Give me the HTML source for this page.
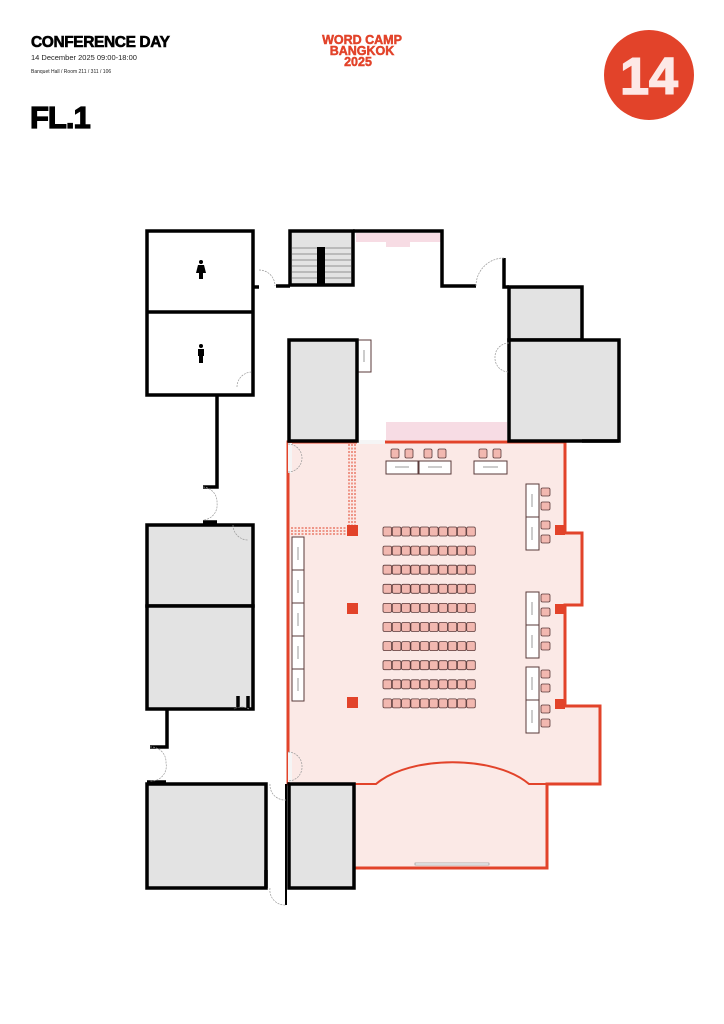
<!DOCTYPE html>
<html><head><meta charset="utf-8"><style>
html,body{margin:0;padding:0;background:#fff;}
svg{display:block}
text{font-family:"Liberation Sans",sans-serif}
</style></head><body>
<svg width="724" height="1024" viewBox="0 0 724 1024" xmlns="http://www.w3.org/2000/svg">
<rect width="724" height="1024" fill="#fff"/>
<!-- header -->
<text x="31" y="47" font-size="15.5" font-weight="bold" fill="#000" stroke="#000" stroke-width="0.6" letter-spacing="-0.4">CONFERENCE DAY</text>
<text x="31" y="60" font-size="7.5" fill="#222">14 December 2025 09:00-18:00</text>
<text x="31" y="73" font-size="5" fill="#222">Banquet Hall / Room 211 / 311 / 106</text>
<text x="30" y="128" font-size="31" font-weight="bold" fill="#000" stroke="#000" stroke-width="1.2" letter-spacing="-1">FL.1</text>
<g fill="#e2432a" stroke="#e2432a" stroke-width="0.5" font-weight="bold" text-anchor="middle">
<text x="362" y="44" font-size="12.5">WORD CAMP</text>
<text x="362" y="55" font-size="12.5">BANGKOK</text>
<text x="358" y="66" font-size="12.5">2025</text>
</g>
<circle cx="649" cy="75" r="45" fill="#e2432a"/>
<text x="649" y="94" font-size="52" font-weight="bold" fill="#fde8e6" stroke="#fde8e6" stroke-width="1.5" text-anchor="middle">14</text>

<!-- hall -->
<path d="M288,442 H565 V533 H582 V605 H565 V706 H600 V784 H547 V868 H354 V784 H288 Z" fill="#fbe9e6" stroke="#e2432a" stroke-width="3"/>
<path d="M354,784 H376 C410,755 495,755 529,784 H547" fill="none" stroke="#e2432a" stroke-width="2"/>
<rect x="415" y="863" width="74" height="2" fill="#fff" stroke="#888" stroke-width="0.6"/>
<rect x="288" y="443" width="4" height="30" fill="#f5f5f5"/>
<rect x="288" y="752" width="4" height="30" fill="#f5f5f5"/>
<rect x="357" y="440" width="28" height="4" fill="#f5f5f5"/>
<!-- pillars -->
<g fill="#e2432a">
<rect x="347" y="525" width="11" height="11"/><rect x="347" y="603" width="11" height="11"/><rect x="347" y="697" width="11" height="11"/>
<rect x="555" y="525" width="10" height="10"/><rect x="555" y="604" width="10" height="10"/><rect x="555" y="699" width="10" height="10"/>
</g>
<g stroke="#e2432a" stroke-width="1" stroke-dasharray="2,1.5">
<line x1="349" y1="444" x2="349" y2="525"/><line x1="352" y1="444" x2="352" y2="525"/><line x1="355" y1="444" x2="355" y2="525"/>
<line x1="291" y1="528" x2="347" y2="528"/><line x1="291" y1="531" x2="347" y2="531"/><line x1="291" y1="534" x2="347" y2="534"/>
</g>
<g id="seats"></g>
<g id="tables" fill="#fff" stroke="#5a3a3a" stroke-width="1">
<rect x="386" y="461" width="32" height="13"/><rect x="419" y="461" width="32" height="13"/><rect x="474" y="461" width="33" height="13"/>
<rect x="292" y="537" width="12" height="33"/><rect x="292" y="570" width="12" height="33"/><rect x="292" y="603" width="12" height="33"/><rect x="292" y="636" width="12" height="33"/><rect x="292" y="669" width="12" height="32"/>
<rect x="526" y="484" width="13" height="33"/><rect x="526" y="517" width="13" height="33"/>
<rect x="526" y="592" width="13" height="33"/><rect x="526" y="625" width="13" height="33"/>
<rect x="526" y="667" width="13" height="33"/><rect x="526" y="700" width="13" height="33"/>
<rect x="358" y="340" width="13" height="32"/>
</g>
<g stroke="#555" stroke-width="0.6">
<line x1="395" y1="467" x2="409" y2="467"/><line x1="428" y1="467" x2="442" y2="467"/><line x1="483" y1="467" x2="498" y2="467"/>
<line x1="298" y1="547" x2="298" y2="560"/><line x1="298" y1="580" x2="298" y2="593"/><line x1="298" y1="613" x2="298" y2="626"/><line x1="298" y1="646" x2="298" y2="659"/><line x1="298" y1="678" x2="298" y2="691"/>
<line x1="532" y1="494" x2="532" y2="507"/><line x1="532" y1="527" x2="532" y2="540"/><line x1="532" y1="602" x2="532" y2="615"/><line x1="532" y1="635" x2="532" y2="648"/><line x1="532" y1="677" x2="532" y2="690"/><line x1="532" y1="710" x2="532" y2="723"/>
<line x1="364" y1="350" x2="364" y2="362"/>
</g>

<!-- grey rooms -->
<g fill="#e3e3e3" stroke="#000" stroke-width="3.5">
<rect x="290" y="231" width="63" height="54"/>
<rect x="289" y="340" width="68" height="101"/>
<rect x="509" y="287" width="73" height="53"/>
<rect x="509" y="340" width="110" height="101"/>
<rect x="147" y="525" width="106" height="81"/>
<rect x="147" y="606" width="106" height="103"/>
<rect x="147" y="784" width="119" height="104"/>
<rect x="289" y="784" width="65" height="104"/>
</g>
<!-- stairs -->
<g stroke="#777" stroke-width="0.8">
<line x1="292" y1="248" x2="351" y2="248"/><line x1="292" y1="254" x2="351" y2="254"/><line x1="292" y1="260" x2="351" y2="260"/><line x1="292" y1="266" x2="351" y2="266"/><line x1="292" y1="272" x2="351" y2="272"/><line x1="292" y1="278" x2="351" y2="278"/>
</g>
<rect x="317" y="247" width="8" height="37" fill="#000"/>
<rect x="292" y="233" width="59" height="13" fill="#e3e3e3"/>
<!-- pink zones -->
<rect x="356" y="233" width="85" height="9" fill="#f7dce4"/>
<rect x="386" y="240" width="24" height="7" fill="#f7dce4"/>
<rect x="386" y="422" width="121" height="18" fill="#f7dce4"/>
<!-- walls -->
<g fill="none" stroke="#000" stroke-width="3.5">
<path d="M253,287 V231 H147 V395 H253 V287"/>
<line x1="147" y1="312" x2="253" y2="312"/>
<path d="M253,287 H259"/><path d="M276,286 H290"/>
<path d="M353,231 H442 V286 H476"/>
<path d="M504,258 V287 H509"/>
<path d="M217,395 V487 H203"/>
<path d="M203,522 H217"/>
<path d="M167,709 V747 H150"/>
<path d="M147,782 H166"/>
<line x1="238" y1="709" x2="238" y2="696"/><line x1="248" y1="709" x2="248" y2="696"/>
<line x1="266" y1="888" x2="266" y2="870"/>
<line x1="582" y1="441" x2="619" y2="441"/>
</g>
<line x1="286" y1="784" x2="286" y2="905" stroke="#000" stroke-width="2"/>
<!-- door arcs -->
<g fill="none" stroke="#999" stroke-width="0.7" stroke-dasharray="2,1">
<path d="M259,270 A16,16 0 0 1 275,286"/>
<path d="M237,387 A15,15 0 0 1 252,372"/>
<path d="M476,286 A28,28 0 0 1 504,258"/>
<path d="M509,343 A14,14 0 0 0 495,357 A14,14 0 0 0 509,372"/>
<path d="M203,487 A15,15 0 0 1 217,503 A15,15 0 0 1 203,520"/>
<path d="M150,747 A15,15 0 0 1 166,763 A15,15 0 0 1 150,781"/>
<path d="M233,525 A15,15 0 0 0 248,540"/>
<path d="M249,709 A15,15 0 0 0 234,709"/>
<path d="M270,784 A15,15 0 0 0 286,800"/>
<path d="M270,888 A15,15 0 0 0 286,905"/>
<path d="M288,444 A14,14 0 0 1 302,458 A14,14 0 0 1 288,472"/>
<path d="M288,752 A14,14 0 0 1 302,766 A14,14 0 0 1 288,781"/>
</g>
<!-- person icons -->
<g fill="#000">
<circle cx="201" cy="262" r="2"/><path d="M198,265 H204 L206,273 H203 V279 H199 V273 H196 Z"/>
<circle cx="201" cy="346" r="2"/><rect x="198" y="349" width="6" height="7"/><rect x="199" y="355" width="4" height="8"/>
</g>
<script>
(function(){
var ns="http://www.w3.org/2000/svg",g=document.getElementById("seats");
function seat(x,y,w,h){var r=document.createElementNS(ns,"rect");r.setAttribute("x",x);r.setAttribute("y",y);r.setAttribute("width",w);r.setAttribute("height",h);r.setAttribute("rx",1.5);r.setAttribute("fill","#f2b8b0");r.setAttribute("stroke","#5a3a3a");r.setAttribute("stroke-width","0.8");g.appendChild(r);}
for(var r=0;r<10;r++)for(var c=0;c<10;c++)seat(383+c*9.3,527+r*19.1,8.6,9);
[[391,449],[405,449],[424,449],[438,449],[479,449],[493,449]].forEach(function(p){seat(p[0],p[1],8,9);});
[488,502,521,535,594,608,628,642,670,684,705,719].forEach(function(y){seat(541,y,9,8);});
})();
</script>
</svg>
</body></html>
